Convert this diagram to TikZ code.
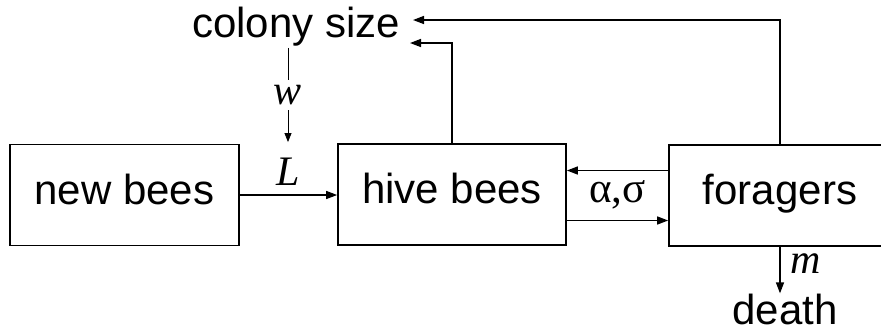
\documentclass[tikz,border=0pt]{standalone}
\usepackage{fontspec}
\setmainfont{Liberation Sans}
\newfontfamily\lserif{Liberation Serif}
\usetikzlibrary{arrows.meta,calc}
\begin{document}
\begin{tikzpicture}[x=1pt,y=-1pt,
  box/.style={draw, line width=1.7pt, inner sep=0pt, minimum height=101pt,
    text height=30pt, text depth=12pt, font=\fontsize{42}{50}\selectfont},
  lab/.style={font=\fontsize{42}{50}\selectfont, inner sep=0pt},
  sym/.style={font=\fontsize{42}{50}\lserif\itshape, inner sep=0pt},
  flow/.style={line width=1.4pt, -{Triangle[length=11pt,width=8pt]}},
  thinflow/.style={line width=0.9pt, -{Triangle[length=9pt,width=7pt]}},
]
\useasboundingbox (0,0) rectangle (881,327);
\node[box, minimum width=229pt] (new) at (124.5,195) {new bees};
\node[box, minimum width=228pt] (hive) at (452,194.5) {hive bees};
\node[box, minimum width=222pt] (forag) at (780,195.5) {foragers};
\node[lab, anchor=base] (colony) at (296,37) {colony size};
\node[lab, anchor=base] (death) at (785,324) {death};
\coordinate (cs1) at (413,20);
\coordinate (cs2) at (410,43);
\draw[flow] (forag.north) |- (cs1);
\draw[flow] (hive.north) |- (cs2);
\draw[flow] (new.east) -- (new.east -| hive.west);
\node[sym] (L) at (288,172) {L};
\draw[thinflow] ([yshift=-2pt]L |- colony.south) -- node[sym, fill=white, inner sep=5pt] (w) {w} ([yshift=16pt]L.north);
\draw[flow] ([yshift=25pt]forag.west) -- ([yshift=25pt]forag.west -| hive.east);
\draw[flow] ([yshift=-26pt]hive.east) -- ([yshift=-26pt]hive.east -| forag.west);
\node[font=\fontsize{43}{50}\lserif, inner sep=0pt] (rates) at ($(hive.east)!0.5!(forag.west)$) {α,σ};
\draw[flow] (forag.south) -- (forag.south |- death.north);
\node[sym] (m) at (806,264) {m};
\end{tikzpicture}
\end{document}
